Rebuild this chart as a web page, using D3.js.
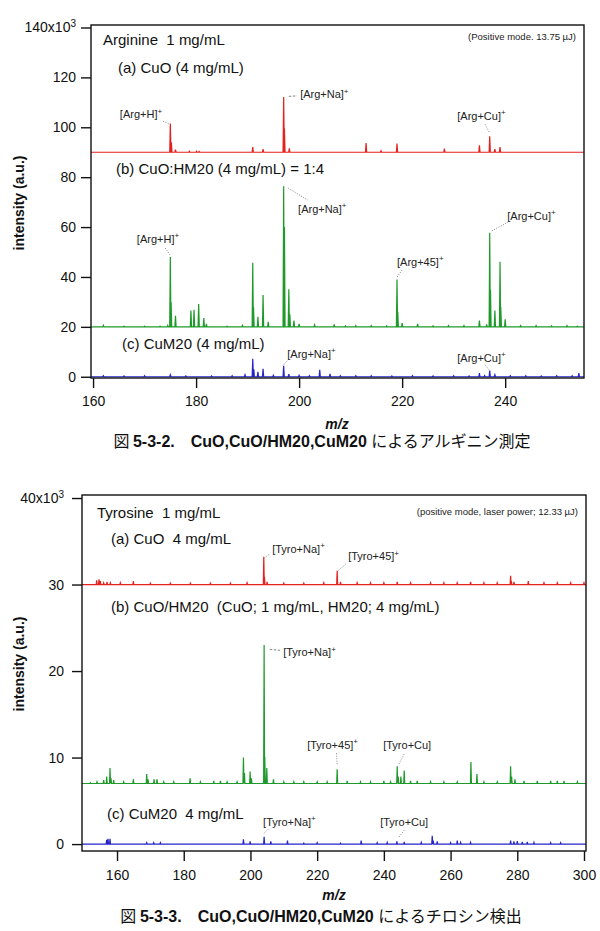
<!DOCTYPE html>
<html>
<head>
<meta charset="utf-8">
<script src="https://cdn.jsdelivr.net/npm/d3@7"></script>
<style>
  body { margin: 0; background: #fff; }
  svg { display: block; }
  text { font-family: "Liberation Sans", Arial, sans-serif; }
</style>
</head>
<body>
<div id="chart"></div>
<script>
// ---- Figure 5-3-2: Arginine ----
const argXTicks = [160, 180, 200, 220, 240];
const argYTicks = [0, 20, 40, 60, 80, 100, 120, 140];

// (a) CuO, baseline 90
const argCuOMz = [175, 175.2, 176, 178.7, 180.1, 180.6, 191, 193, 197, 197.15, 198.1, 213, 215.9, 219, 228.2, 235, 237, 238, 239];
const argCuOH  = [11.5, 4, 1, 0.4, 0.4, 0.3, 2.1, 1.2, 22.1, 9.5, 1.6, 3.7, 0.6, 3.5, 1.5, 2.8, 6.4, 1.2, 2.1];

// (b) CuO:HM20, baseline 20
const argHMMz = [162, 166, 170, 173, 174.5, 175, 175.15, 176, 179, 179.6, 180.5, 181.5, 182, 186, 189, 191, 191.15, 192, 193, 194, 197, 197.15, 198, 198.2, 199, 200, 203, 206.8, 209, 211, 214, 217, 219, 219.15, 220, 223, 226, 229, 232, 235, 236.4, 237, 237.15, 238, 239, 239.15, 240, 243, 246, 249, 252, 254];
const argHMH  = [0.6, 0.3, 0.3, 0.3, 0.6, 28, 10, 4.4, 6.5, 6.8, 9.2, 3.5, 1.2, 0.3, 0.6, 25.7, 8, 4, 12.8, 2, 56.4, 40, 15.1, 5, 2.5, 1.2, 0.8, 1.0, 0.4, 0.5, 0.5, 0.4, 19, 6, 1.5, 1.2, 0.4, 0.5, 0.5, 2.5, 1, 37.7, 14.8, 6.5, 26.1, 8, 3, 0.5, 0.5, 0.4, 0.5, 0.3];

// (c) CuM20, baseline 0
const argCuMMz = [162, 166, 170, 175, 178, 183, 187, 189.5, 191, 191.2, 192, 193, 195, 197, 198, 200, 202, 204, 206, 208, 211, 214, 218, 222, 226, 230, 233, 235, 236, 237, 238, 241, 244, 247, 250, 253, 254.3];
const argCuMH  = [0.4, 0.3, 0.4, 0.8, 0.3, 0.3, 0.4, 0.8, 7.2, 3, 2, 3.2, 0.6, 4.4, 1, 0.6, 0.4, 2.8, 1.2, 0.4, 0.4, 0.4, 0.3, 0.4, 0.3, 0.4, 0.3, 1.5, 0.5, 2.5, 0.8, 0.4, 0.4, 0.3, 0.4, 0.4, 1.5];

// peak labels: text, anchor (mz, value), leader (mz1, v1, mz2, v2)
const argLabels = [
  { t: '[Arg+H]', sup: '+', mz: 165.2, v: 103.6, l: [173.6, 102.4, 174.95, 101.2], dash: '1,1.5' },
  { t: '[Arg+Na]', sup: '+', mz: 200.2, v: 111.6, l: [198.0, 112.4, 199.6, 112.6], dash: '2.5,1.5' },
  { t: '[Arg+Cu]', sup: '+', mz: 230.7, v: 102.8, l: [236.1, 101.2, 237.0, 97.6], dash: '1,1.5' },
  { t: '[Arg+H]', sup: '+', mz: 168.5, v: 53.6, l: [174.0, 51.6, 174.95, 48.8], dash: '1,1.5' },
  { t: '[Arg+Na]', sup: '+', mz: 199.8, v: 65.6, l: [197.9, 75.6, 201.7, 70.8], dash: '1,1.5' },
  { t: '[Arg+45]', sup: '+', mz: 219.0, v: 44.4, l: [220.0, 42.8, 218.9, 39.6], dash: '1,1.5' },
  { t: '[Arg+Cu]', sup: '+', mz: 240.4, v: 62.8, l: [240.6, 62.0, 237.3, 58.4], dash: '1,1.5' },
  { t: '[Arg+Na]', sup: '+', mz: 197.7, v: 7.6, l: [197.7, 6.4, 196.9, 4.6], dash: '1,1.5' },
  { t: '[Arg+Cu]', sup: '+', mz: 230.7, v: 6.0, l: [236.1, 4.8, 237.0, 2.4], dash: '1,1.5' }
];

// ---- Figure 5-3-3: Tyrosine ----
const tyrXTicks = [160, 180, 200, 220, 240, 260, 280, 300];
const tyrYTicks = [0, 10, 20, 30, 40];

// (a) CuO, baseline 30
const tyrCuOMz = [153.9, 154.6, 155, 156, 157, 158, 161, 164.9, 170, 176, 182, 188, 194, 199, 204, 204.2, 205, 210, 216, 222, 226, 227, 232, 236, 240, 244, 248, 254, 258, 262, 266, 270, 274, 278, 278.2, 279, 283.3, 288, 292, 296, 300];
const tyrCuOH  = [0.5, 0.6, 0.4, 0.2, 0.3, 0.2, 0.2, 0.4, 0.15, 0.15, 0.15, 0.15, 0.15, 0.2, 3.2, 0.9, 0.3, 0.15, 0.15, 0.2, 1.6, 0.3, 0.2, 0.2, 0.2, 0.3, 0.2, 0.2, 0.2, 0.2, 0.3, 0.2, 0.2, 1.0, 0.4, 0.3, 0.4, 0.2, 0.2, 0.2, 0.2];

// (b) CuO/HM20, baseline 7
const tyrHMMz = [152, 154, 156, 156.9, 157.9, 158.2, 159, 162, 164.9, 168.9, 169.3, 171.1, 172, 174, 177, 181.9, 185, 189, 191, 193, 196, 197.9, 198.2, 199.9, 200.3, 204.1, 204.3, 204.9, 206.9, 210, 213, 216, 220, 223, 226, 229, 233, 236, 240, 242, 244, 244.3, 245.1, 246.1, 248, 250, 254, 258, 262, 266.1, 267.9, 270, 274, 278, 278.3, 279.3, 282, 286, 290, 292, 294, 298];
const tyrHMH  = [0.1, 0.2, 0.4, 0.8, 1.8, 0.6, 0.4, 0.2, 0.5, 1.1, 0.5, 0.5, 0.5, 0.2, 0.2, 0.6, 0.2, 0.3, 0.3, 0.2, 0.2, 3.0, 1.2, 1.4, 0.6, 16, 3.1, 1.8, 0.5, 0.2, 0.2, 0.2, 0.2, 0.2, 1.65, 0.3, 0.2, 0.2, 0.3, 0.2, 2.0, 0.8, 0.8, 1.5, 0.3, 0.3, 0.2, 0.2, 0.2, 2.5, 1.1, 0.2, 0.2, 2.0, 0.8, 0.5, 0.3, 0.3, 0.3, 0.3, 0.3, 0.2];

// (c) CuM20, baseline 0
const tyrCuMMz = [156.9, 157.3, 157.9, 168.9, 171, 173, 197.9, 199.9, 204.1, 206.1, 211.1, 216, 220, 227, 233.2, 238, 241, 243.9, 246.1, 251.2, 254.5, 254.8, 256, 260, 262, 263, 266, 278, 279, 280, 281.5, 283, 285, 290, 293];
const tyrCuMH  = [0.5, 0.6, 0.6, 0.15, 0.15, 0.15, 0.55, 0.3, 0.85, 0.3, 0.4, 0.1, 0.15, 0.1, 0.4, 0.15, 0.2, 0.3, 0.25, 0.2, 0.96, 0.4, 0.3, 0.15, 0.4, 0.2, 0.2, 0.4, 0.3, 0.35, 0.25, 0.25, 0.2, 0.15, 0.15];

const tyrLabels = [
  { t: '[Tyro+Na]', sup: '+', mz: 206.5, v: 33.7, l: [205.6, 33.5, 204.3, 33.1], dash: '1,1.5' },
  { t: '[Tyro+45]', sup: '+', mz: 229.3, v: 32.8, l: [228.7, 32.4, 226.3, 31.6], dash: '1,1.5' },
  { t: '[Tyro+Na]', sup: '+', mz: 209.8, v: 21.7, l: [205.8, 22.5, 208.9, 22.4], dash: '2.5,1.5' },
  { t: '[Tyro+45]', sup: '+', mz: 217.0, v: 11.0, l: [225.8, 10.5, 226.0, 9.2], dash: '1,1.5' },
  { t: '[Tyro+Cu]', sup: '', mz: 239.8, v: 11.0, l: [246.1, 10.4, 244.3, 9.1], dash: '1,1.5' },
  { t: '[Tyro+Na]', sup: '+', mz: 203.8, v: 2.1, l: [205.3, 1.7, 203.7, 1.1], dash: '1,1.5' },
  { t: '[Tyro+Cu]', sup: '', mz: 238.9, v: 2.1, l: [246.1, 1.6, 244.3, 0.7], dash: '1,1.5' }
];

const RED = '#e3221f', GREEN = '#1f9a2a', BLUE = '#2525c8';
const NB = '\u00a0';

const svg = d3.select('#chart').append('svg')
    .attr('width', 600)
    .attr('height', 931);

// peak list -> stick spectrum polyline on a baseline
function spectrum(mzs, hs, base, domain, w) {
    const peaks = mzs.map((m, i) => [m, hs[i]]).sort((a, b) => a[0] - b[0]);
    const pts = [[domain[0], base]];
    peaks.forEach(([m, h]) => {
        pts.push([m - w, base], [m, base + h], [m + w, base]);
    });
    pts.push([domain[1], base]);
    return pts;
}

function drawPanel(cfg) {
    const { box, xDomain, yDomain, xTicks, yTicks, topLabel, series, labels, texts, note, yLabelY, id } = cfg;
    const x = d3.scaleLinear().domain(xDomain).range([box.x0, box.x1]);
    const y = d3.scaleLinear().domain(yDomain).range([box.y1, box.y0]);
    const g = svg.append('g');

    g.append('clipPath').attr('id', id)
        .append('rect')
        .attr('x', box.x0).attr('y', box.y0)
        .attr('width', box.x1 - box.x0).attr('height', box.y1 - box.y0);

    // spectra
    const line = d3.line().x(d => x(d[0])).y(d => y(d[1]));
    series.forEach(s => {
        g.append('path')
            .datum(spectrum(s.mz, s.h, s.base, xDomain, s.w))
            .attr('clip-path', `url(#${id})`)
            .attr('d', line)
            .attr('fill', 'none')
            .attr('stroke', s.color)
            .attr('stroke-width', 1.2)
            .attr('stroke-linejoin', 'miter');
    });

    // frame
    g.append('rect')
        .attr('x', box.x0).attr('y', box.y0)
        .attr('width', box.x1 - box.x0).attr('height', box.y1 - box.y0)
        .attr('fill', 'none')
        .attr('stroke', '#111')
        .attr('stroke-width', 1.4);

    // axes
    const yAxis = g.append('g')
        .attr('transform', `translate(${box.x0},0)`)
        .call(d3.axisLeft(y).tickValues(yTicks).tickSize(10).tickSizeOuter(0).tickPadding(cfg.yPad));
    yAxis.select('.domain').remove();
    yAxis.selectAll('.tick line').attr('stroke', '#111').attr('stroke-width', 1.4);
    yAxis.selectAll('.tick text')
        .attr('font-size', 14)
        .attr('fill', '#111')
        .attr('font-family', '"Liberation Sans", Arial, sans-serif')
        .each(function (d) {
            if (d === yTicks[yTicks.length - 1]) {
                const t = d3.select(this).text('');
                t.append('tspan').text(topLabel);
                t.append('tspan').attr('font-size', 10).attr('dy', '-0.55em').text('3');
            }
        });

    const xAxis = g.append('g')
        .attr('transform', `translate(0,${box.y1})`)
        .call(d3.axisBottom(x).tickValues(xTicks).tickSize(10).tickSizeOuter(0).tickPadding(cfg.xPad));
    xAxis.select('.domain').remove();
    xAxis.selectAll('.tick line').attr('stroke', '#111').attr('stroke-width', 1.4);
    xAxis.selectAll('.tick text')
        .attr('font-size', 14)
        .attr('fill', '#111')
        .attr('font-family', '"Liberation Sans", Arial, sans-serif');

    // y title
    g.append('text')
        .attr('transform', `translate(24,${yLabelY}) rotate(-90)`)
        .attr('text-anchor', 'middle')
        .attr('font-size', 14)
        .attr('font-weight', 'bold')
        .attr('fill', '#111')
        .text('intensity (a.u.)');

    // panel texts
    texts.forEach(d => {
        g.append('text')
            .attr('x', d.x).attr('y', d.y)
            .attr('font-size', d.size)
            .attr('fill', '#111')
            .text(d.t.replace(/  /g, ' ' + NB));
    });
    g.append('text')
        .attr('x', box.x1 - 8).attr('y', note.y)
        .attr('text-anchor', 'end')
        .attr('font-size', 9.5)
        .attr('fill', '#222')
        .text(note.t);

    // peak labels with leaders
    labels.forEach(d => {
        g.append('line')
            .attr('x1', x(d.l[0])).attr('y1', y(d.l[1]))
            .attr('x2', x(d.l[2])).attr('y2', y(d.l[3]))
            .attr('stroke', '#666')
            .attr('stroke-width', 0.8)
            .attr('stroke-dasharray', d.dash);
        const t = g.append('text')
            .attr('x', x(d.mz)).attr('y', y(d.v))
            .attr('font-size', 11)
            .attr('fill', '#222');
        t.append('tspan').text(d.t);
        if (d.sup) t.append('tspan').attr('font-size', 8).attr('dy', '-0.6em').text(d.sup);
    });

    return { x, y };
}

// Figure 1
drawPanel({
    id: 'clipArg',
    box: { x0: 91, x1: 584, y0: 25, y1: 378 },
    xDomain: [159.6, 255.3],
    yDomain: [-0.5, 141],
    xTicks: argXTicks,
    yTicks: argYTicks,
    yPad: 5,
    xPad: 8,
    topLabel: '140x10',
    yLabelY: 203,
    series: [
        { mz: argCuOMz, h: argCuOH, base: 90, color: RED, w: 0.12 },
        { mz: argHMMz, h: argHMH, base: 20, color: GREEN, w: 0.12 },
        { mz: argCuMMz, h: argCuMH, base: 0, color: BLUE, w: 0.12 }
    ],
    labels: argLabels,
    note: { t: '(Positive mode. 13.75 µJ)', y: 40 },
    texts: [
        { t: 'Arginine  1 mg/mL', x: 103, y: 45, size: 15 },
        { t: '(a) CuO (4 mg/mL)', x: 118, y: 73, size: 15 },
        { t: '(b) CuO:HM20 (4 mg/mL) = 1:4', x: 116, y: 174, size: 15 },
        { t: '(c) CuM20 (4 mg/mL)', x: 122, y: 349, size: 15 }
    ]
});

// Figure 2
drawPanel({
    id: 'clipTyr',
    box: { x0: 82, x1: 586, y0: 495, y1: 851 },
    xDomain: [149.5, 300.6],
    yDomain: [-0.8, 40.35],
    xTicks: tyrXTicks,
    yTicks: tyrYTicks,
    yPad: 8,
    xPad: 9,
    topLabel: '40x10',
    yLabelY: 664,
    series: [
        { mz: tyrCuOMz, h: tyrCuOH, base: 30, color: RED, w: 0.15 },
        { mz: tyrHMMz, h: tyrHMH, base: 7, color: GREEN, w: 0.15 },
        { mz: tyrCuMMz, h: tyrCuMH, base: 0, color: BLUE, w: 0.15 }
    ],
    labels: tyrLabels,
    note: { t: '(positive mode, laser power; 12.33 µJ)', y: 515 },
    texts: [
        { t: 'Tyrosine  1 mg/mL', x: 97, y: 518, size: 15 },
        { t: '(a) CuO  4 mg/mL', x: 111, y: 544, size: 15 },
        { t: '(b) CuO/HM20  (CuO; 1 mg/mL, HM20; 4 mg/mL)', x: 111, y: 612, size: 15 },
        { t: '(c) CuM20  4 mg/mL', x: 107, y: 819, size: 15 }
    ]
});

// m/z titles and captions
[[337, 429], [334, 900]].forEach(([cx, cy]) => {
    svg.append('text')
        .attr('x', cx).attr('y', cy)
        .attr('text-anchor', 'middle')
        .attr('font-size', 14)
        .attr('font-weight', 'bold')
        .attr('font-style', 'italic')
        .attr('fill', '#111')
        .text('m/z');
});

function caption(cx, cy, num, rest) {
    const t = svg.append('text')
        .attr('x', cx).attr('y', cy)
        .attr('text-anchor', 'middle')
        .attr('font-size', 16)
        .attr('fill', '#111');
    t.append('tspan').attr('font-family', '"Noto Sans CJK JP", sans-serif').text('図' + NB);
    t.append('tspan').attr('font-weight', 'bold').text(num + '\u3000CuO,CuO/HM20,CuM20' + NB);
    t.append('tspan').attr('font-family', '"Noto Sans CJK JP", sans-serif').text(rest);
}
caption(322, 447, '5-3-2.', 'によるアルギニン測定');
caption(321, 922, '5-3-3.', 'によるチロシン検出');
</script>
</body>
</html>
